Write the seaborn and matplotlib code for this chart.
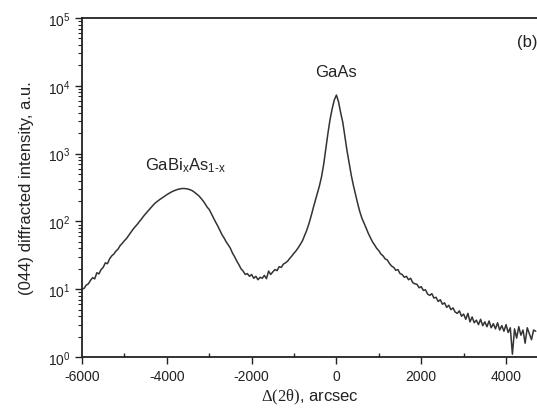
import matplotlib
matplotlib.use("Agg")
import matplotlib.pyplot as plt
import numpy as np
import pandas as pd
import seaborn as sns
from matplotlib.ticker import LogLocator, MultipleLocator

# Values (step 50 arcsec)
delta_2theta = list(range(-6000, 4701, 50))
intensity = [
    10.0, 10.3, 11.5, 12.0, 13.5, 14.8, 14.2, 17.5, 16.8, 19.5,
    21.0, 24.5, 23.8, 28.0, 31.0, 33.0, 36.5, 39.0, 44.0, 47.5,
    52, 56, 62, 69, 76, 83, 90, 99, 108, 119,
    130, 141, 153, 166, 180, 192, 203, 214, 224, 236,
    248, 259, 270, 280, 288, 296, 301, 305, 306, 304,
    300, 293, 284, 270, 255, 240, 222, 203, 183, 163,
    150, 130, 112, 98, 86, 74, 64, 57, 50, 45,
    40, 34, 30, 26, 23, 20, 18.5, 16.5, 17.0, 15.5,
    16.5, 14.5, 15.5, 13.8, 15.0, 14.5, 16.0, 14.3, 18.5, 16.5,
    18.0, 19.5, 18.8, 21.5, 21.0, 23.5, 24.5, 26.0, 28.5, 31,
    34, 37, 41, 46, 52, 62, 74, 92, 118, 155,
    200, 260, 336, 460, 700, 1200, 2000, 3200, 4600, 6200,
    7300, 5800, 4000, 2900, 1800, 1100, 720, 480, 340, 250,
    185, 140, 112, 95, 80, 67, 58, 50, 45, 40,
    37, 33, 31, 28, 27, 24, 22, 21, 19, 19.5,
    17, 16.5, 15, 15.5, 13.8, 14.5, 12.5, 12.0, 11.8, 10.5,
    10.9, 9.6, 9.8, 8.5, 8.1, 8.6, 7.4, 7.6, 6.6, 7.0,
    6.0, 6.3, 5.4, 5.8, 5.0, 5.3, 4.6, 4.4, 4.8, 4.0,
    4.3, 3.6, 4.4, 3.3, 3.9, 3.2, 3.5, 3.0, 3.6, 2.9,
    3.3, 2.8, 3.4, 2.7, 3.1, 2.6, 3.2, 2.5, 2.9, 2.4,
    3.0, 2.3, 2.7, 1.1, 2.6, 1.9, 2.8, 2.1, 2.5, 1.6,
    2.7, 2.2, 1.8, 2.5, 2.4,
]

x_ticks = [-6000, -4000, -2000, 0, 2000, 4000]
peak_labels = ["GaBi$_\\mathsf{x}$As$_\\mathsf{1\u2010x}$", "GaAs"]
peak_label_x = [-3550, -20]
peak_label_y = [680, 16500]

df = pd.DataFrame({"delta": delta_2theta, "intensity": intensity})

sns.set_style("ticks")
plt.rcParams["font.family"] = ["Liberation Sans", "DejaVu Sans"]
plt.rcParams["mathtext.fontset"] = "custom"
plt.rcParams["mathtext.rm"] = "Liberation Serif"
plt.rcParams["mathtext.sf"] = "Liberation Sans"
plt.rcParams["mathtext.it"] = "Liberation Serif:italic"
plt.rcParams["axes.unicode_minus"] = False

fig = plt.figure(figsize=(5.37, 4.10), dpi=100)
ax = fig.add_axes([0.1527, 0.1268, 0.8473, 0.8268])

sns.lineplot(data=df, x="delta", y="intensity", ax=ax, color="#333333", linewidth=1.1)

ax.set_yscale("log")
ax.set_ylim(1, 1e5)
ax.set_xlim(-6000, 4730)
ax.set_xticks(x_ticks)
ax.xaxis.set_minor_locator(MultipleLocator(1000))
ax.yaxis.set_major_locator(LogLocator(base=10, numticks=10))
ax.yaxis.set_minor_locator(LogLocator(base=10, subs=np.arange(2, 10), numticks=10))

ax.tick_params(axis="both", which="major", direction="out", length=5, width=1, labelsize=10, colors="#222222")
ax.tick_params(axis="x", which="minor", direction="in", length=3, width=1)
ax.tick_params(axis="y", which="minor", direction="out", length=3, width=0.8)

for side in ["left", "bottom", "top"]:
    ax.spines[side].set_linewidth(1.3)
    ax.spines[side].set_color("#222222")
ax.spines["right"].set_visible(False)

ax.set_xlabel(r"$\mathrm{\Delta(2\theta)}$, arcsec", fontsize=12, color="#222222", labelpad=3)
ax.set_ylabel("(044) diffracted intensity, a.u.", fontsize=12, color="#222222", labelpad=10)

for label, lx, ly in zip(peak_labels, peak_label_x, peak_label_y):
    ax.text(lx, ly, label, fontsize=12, ha="center", va="center", color="#222222")

fig.text(517 / 537, 1 - 43 / 410, "(b)", fontsize=12, ha="left", va="center", color="#222222")

fig.savefig("out.png", dpi=100)
